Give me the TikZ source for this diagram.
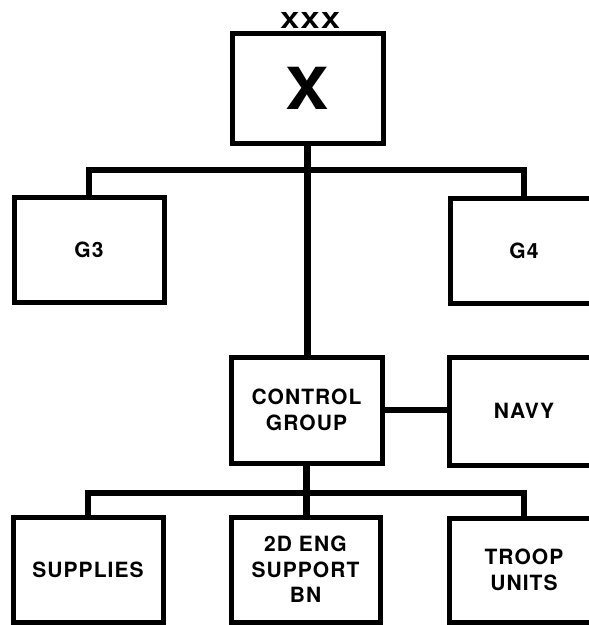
\documentclass[tikz,border=0pt]{standalone}
\usepackage{fontspec}
\newfontfamily\lbl[LetterSpace=5]{TeX Gyre Heros}
\newfontfamily\hv{TeX Gyre Heros}
\tikzset{
  box/.style={draw, line width=5pt, rectangle, minimum width=150pt, minimum height=105pt,
    inner sep=0pt, align=center, font=\lbl\bfseries\fontsize{21}{25.5}\selectfont},
  conn/.style={line width=6.5pt, line join=miter}
}
\begin{document}
\begin{tikzpicture}[x=1pt,y=-1pt]
\useasboundingbox (0,0) rectangle (589,625);
\clip (0,0) rectangle (589,625);
\fill[white] (0,0) rectangle (589,625);
% boxes
\node[box, minimum width=151pt, minimum height=110pt, font=\hv\bfseries\fontsize{58}{58}\selectfont] (top) at (307.5,88) {\scalebox{1.12}[1]{X}};
\node[font=\hv\bfseries\fontsize{22}{22}\selectfont, inner sep=0pt] (xxx) at (310,20) {\scalebox{1.3}[1]{X\kern1ptX\kern1ptX}};
\node[box] (g3) at (89,249.5) {G3};
\node[box, minimum width=148pt] (g4) at (524,250.5) {G4};
\node[box, minimum width=151pt, minimum height=106pt] (ctrl) at (306.5,410) {CONTROL\\GROUP};
\node[box, minimum height=108pt] (navy) at (524,411) {NAVY};
\node[box] (sup) at (88,569.5) {SUPPLIES};
\node[box, minimum width=149pt] (eng) at (305.5,569.5) {2D ENG\\SUPPORT\\BN};
\node[box, minimum height=104pt] (troop) at (524,570) {TROOP\\UNITS};
% connectors
\coordinate (ja) at (308,170);
\coordinate (jb) at (306,493);
\draw[conn] (g3.north) |- (ja) -| (g4.north);
\draw[conn] (top.south) -- (top.south |- ctrl.north);
\draw[conn] (ctrl.east) -- (ctrl.east -| navy.west);
\draw[conn] (sup.north) |- (jb) -| (troop.north);
\draw[conn] (ctrl.south) -- (ctrl.south |- eng.north);
\end{tikzpicture}
\end{document}
